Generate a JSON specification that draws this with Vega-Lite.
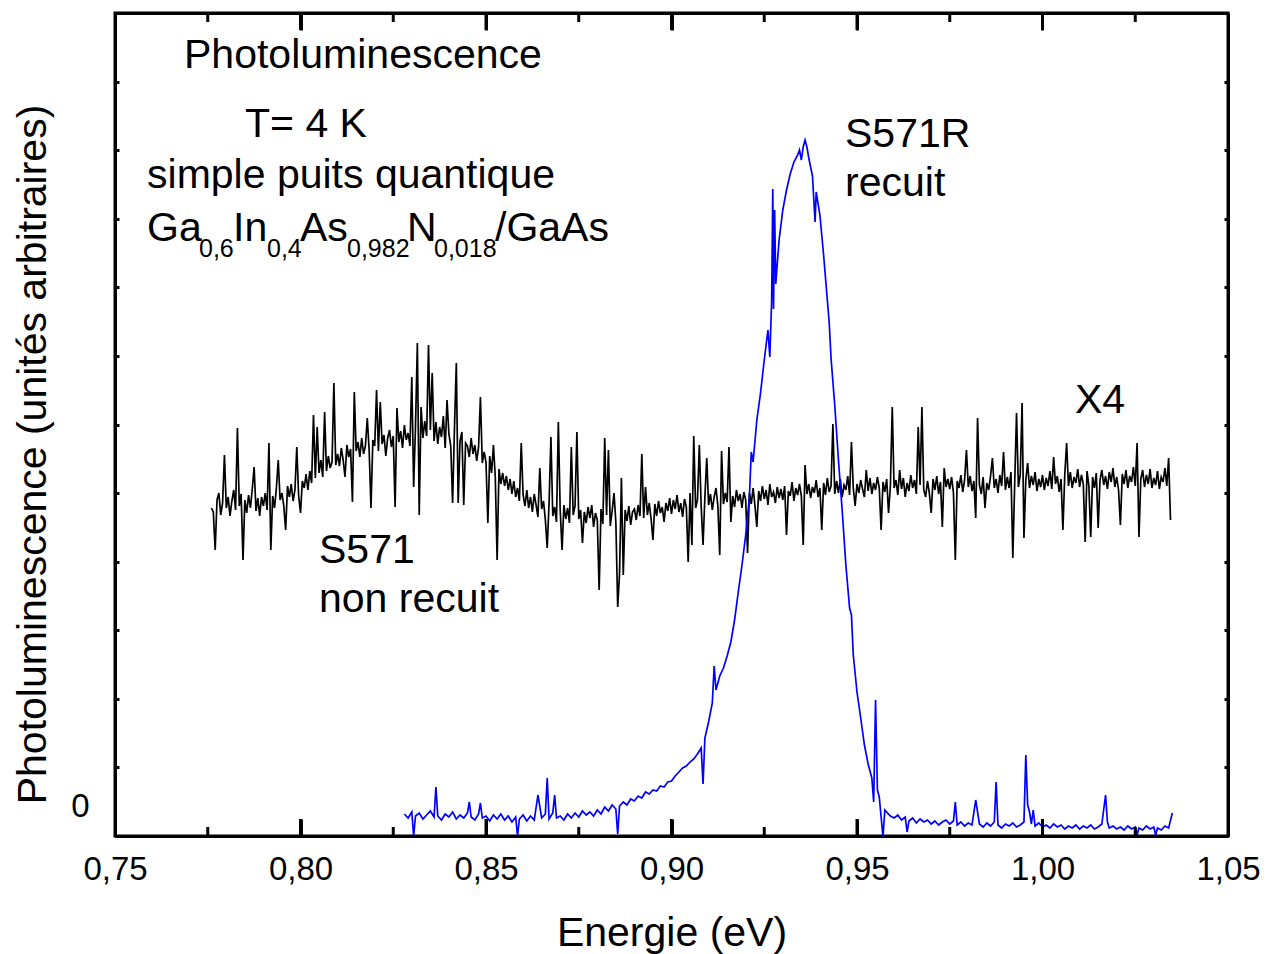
{
"$schema": "https://vega.github.io/schema/vega-lite/v6.json",
"width": 1113, "height": 823,
"autosize": "none",
"padding": {"left": 115, "top": 13, "right": 48, "bottom": 118},
"background": "white",
"config": {
  "font": "Liberation Sans",
  "view": {"stroke": "black", "strokeWidth": 3},
  "axis": {"zindex": 1, "grid": false, "domainColor": "black", "domainWidth": 3, "tickColor": "black", "tickWidth": 3, "labelColor": "black", "titleColor": "black", "labelFont": "Liberation Sans", "titleFont": "Liberation Sans", "titleFontWeight": "normal"}
},
"datasets": {
"black": [
{"e":0.776,"v":298},{"e":0.7765,"v":294},{"e":0.777,"v":256},{"e":0.7775,"v":306},{"e":0.778,"v":313},{"e":0.7785,"v":291},{"e":0.779,"v":303},{"e":0.7795,"v":351},{"e":0.78,"v":298},{"e":0.7805,"v":309},
{"e":0.781,"v":290},{"e":0.7815,"v":305},{"e":0.782,"v":316},{"e":0.7825,"v":296},{"e":0.783,"v":378},{"e":0.7835,"v":300},{"e":0.784,"v":312},{"e":0.7845,"v":246},{"e":0.785,"v":306},{"e":0.7855,"v":293},
{"e":0.786,"v":311},{"e":0.7865,"v":298},{"e":0.787,"v":317},{"e":0.7875,"v":339},{"e":0.788,"v":295},{"e":0.7885,"v":308},{"e":0.789,"v":290},{"e":0.7895,"v":309},{"e":0.79,"v":300},{"e":0.7905,"v":313},
{"e":0.791,"v":296},{"e":0.7915,"v":363},{"e":0.792,"v":256},{"e":0.7925,"v":310},{"e":0.793,"v":298},{"e":0.7935,"v":318},{"e":0.794,"v":346},{"e":0.7945,"v":306},{"e":0.795,"v":313},{"e":0.7955,"v":300},
{"e":0.796,"v":276},{"e":0.7965,"v":320},{"e":0.797,"v":309},{"e":0.7975,"v":322},{"e":0.798,"v":305},{"e":0.7985,"v":316},{"e":0.799,"v":359},{"e":0.7995,"v":310},{"e":0.8,"v":293},{"e":0.8005,"v":325},
{"e":0.801,"v":318},{"e":0.8015,"v":332},{"e":0.802,"v":316},{"e":0.8025,"v":335},{"e":0.803,"v":323},{"e":0.8035,"v":391},{"e":0.804,"v":328},{"e":0.8045,"v":379},{"e":0.805,"v":333},{"e":0.8055,"v":346},
{"e":0.806,"v":329},{"e":0.8065,"v":394},{"e":0.807,"v":335},{"e":0.8075,"v":350},{"e":0.808,"v":338},{"e":0.8085,"v":344},{"e":0.809,"v":423},{"e":0.8095,"v":341},{"e":0.81,"v":352},{"e":0.8105,"v":340},
{"e":0.811,"v":358},{"e":0.8115,"v":346},{"e":0.812,"v":329},{"e":0.8125,"v":361},{"e":0.813,"v":349},{"e":0.8135,"v":357},{"e":0.814,"v":304},{"e":0.8145,"v":414},{"e":0.815,"v":355},{"e":0.8155,"v":364},
{"e":0.816,"v":349},{"e":0.8165,"v":368},{"e":0.817,"v":352},{"e":0.8175,"v":360},{"e":0.818,"v":388},{"e":0.8185,"v":356},{"e":0.819,"v":298},{"e":0.8195,"v":366},{"e":0.82,"v":360},{"e":0.8205,"v":416},
{"e":0.821,"v":355},{"e":0.8215,"v":404},{"e":0.822,"v":362},{"e":0.8225,"v":371},{"e":0.823,"v":350},{"e":0.8235,"v":368},{"e":0.824,"v":376},{"e":0.8245,"v":359},{"e":0.825,"v":370},{"e":0.8255,"v":299},
{"e":0.826,"v":398},{"e":0.8265,"v":364},{"e":0.827,"v":375},{"e":0.8275,"v":358},{"e":0.828,"v":381},{"e":0.8285,"v":366},{"e":0.829,"v":373},{"e":0.8295,"v":360},{"e":0.83,"v":429},{"e":0.8305,"v":319},
{"e":0.831,"v":380},{"e":0.8315,"v":463},{"e":0.832,"v":291},{"e":0.8325,"v":399},{"e":0.833,"v":368},{"e":0.8335,"v":385},{"e":0.834,"v":370},{"e":0.8345,"v":461},{"e":0.835,"v":376},{"e":0.8355,"v":433},
{"e":0.836,"v":365},{"e":0.8365,"v":384},{"e":0.837,"v":362},{"e":0.8375,"v":379},{"e":0.838,"v":369},{"e":0.8385,"v":390},{"e":0.839,"v":358},{"e":0.8395,"v":406},{"e":0.84,"v":372},{"e":0.8405,"v":360},
{"e":0.841,"v":303},{"e":0.8415,"v":378},{"e":0.842,"v":443},{"e":0.8425,"v":303},{"e":0.843,"v":365},{"e":0.8435,"v":374},{"e":0.844,"v":301},{"e":0.8445,"v":363},{"e":0.845,"v":360},{"e":0.8455,"v":349},
{"e":0.846,"v":368},{"e":0.8465,"v":352},{"e":0.847,"v":361},{"e":0.8475,"v":345},{"e":0.848,"v":359},{"e":0.8485,"v":409},{"e":0.849,"v":343},{"e":0.8495,"v":354},{"e":0.85,"v":344},{"e":0.8505,"v":283},
{"e":0.851,"v":350},{"e":0.8515,"v":333},{"e":0.852,"v":361},{"e":0.8525,"v":329},{"e":0.853,"v":246},{"e":0.8535,"v":337},{"e":0.854,"v":322},{"e":0.8545,"v":333},{"e":0.855,"v":320},{"e":0.8555,"v":330},
{"e":0.856,"v":316},{"e":0.8565,"v":327},{"e":0.857,"v":312},{"e":0.8575,"v":325},{"e":0.858,"v":309},{"e":0.8585,"v":318},{"e":0.859,"v":305},{"e":0.8595,"v":363},{"e":0.86,"v":311},{"e":0.8605,"v":300},
{"e":0.861,"v":316},{"e":0.8615,"v":298},{"e":0.862,"v":309},{"e":0.8625,"v":294},{"e":0.863,"v":312},{"e":0.8635,"v":301},{"e":0.864,"v":289},{"e":0.8645,"v":338},{"e":0.865,"v":297},{"e":0.8655,"v":305},
{"e":0.866,"v":286},{"e":0.8665,"v":258},{"e":0.867,"v":303},{"e":0.8675,"v":369},{"e":0.868,"v":290},{"e":0.8685,"v":299},{"e":0.869,"v":284},{"e":0.8695,"v":384},{"e":0.87,"v":296},{"e":0.8705,"v":256},
{"e":0.871,"v":301},{"e":0.8715,"v":287},{"e":0.872,"v":298},{"e":0.8725,"v":283},{"e":0.873,"v":359},{"e":0.8735,"v":291},{"e":0.874,"v":300},{"e":0.8745,"v":374},{"e":0.875,"v":287},{"e":0.8755,"v":296},
{"e":0.876,"v":263},{"e":0.8765,"v":294},{"e":0.877,"v":283},{"e":0.8775,"v":299},{"e":0.878,"v":288},{"e":0.8785,"v":301},{"e":0.879,"v":279},{"e":0.8795,"v":293},{"e":0.88,"v":286},{"e":0.8805,"v":216},
{"e":0.881,"v":297},{"e":0.8815,"v":282},{"e":0.882,"v":368},{"e":0.8825,"v":291},{"e":0.883,"v":356},{"e":0.8835,"v":280},{"e":0.884,"v":295},{"e":0.8845,"v":313},{"e":0.885,"v":284},{"e":0.8855,"v":199},
{"e":0.886,"v":233},{"e":0.8865,"v":328},{"e":0.887,"v":231},{"e":0.8875,"v":296},{"e":0.888,"v":285},{"e":0.8885,"v":300},{"e":0.889,"v":281},{"e":0.8895,"v":294},{"e":0.89,"v":297},{"e":0.8905,"v":286},
{"e":0.891,"v":301},{"e":0.8915,"v":290},{"e":0.892,"v":352},{"e":0.8925,"v":288},{"e":0.893,"v":319},{"e":0.8935,"v":291},{"e":0.894,"v":303},{"e":0.8945,"v":287},{"e":0.895,"v":266},{"e":0.8955,"v":302},
{"e":0.896,"v":290},{"e":0.8965,"v":305},{"e":0.897,"v":293},{"e":0.8975,"v":299},{"e":0.898,"v":284},{"e":0.8985,"v":303},{"e":0.899,"v":295},{"e":0.8995,"v":308},{"e":0.9,"v":292},{"e":0.9005,"v":306},
{"e":0.901,"v":297},{"e":0.9015,"v":311},{"e":0.902,"v":294},{"e":0.9025,"v":303},{"e":0.903,"v":289},{"e":0.9035,"v":307},{"e":0.904,"v":299},{"e":0.9045,"v":244},{"e":0.905,"v":313},{"e":0.9055,"v":261},
{"e":0.906,"v":370},{"e":0.9065,"v":298},{"e":0.907,"v":306},{"e":0.9075,"v":361},{"e":0.908,"v":300},{"e":0.9085,"v":261},{"e":0.909,"v":309},{"e":0.9095,"v":348},{"e":0.91,"v":301},{"e":0.9105,"v":312},
{"e":0.911,"v":296},{"e":0.9115,"v":309},{"e":0.912,"v":318},{"e":0.9125,"v":300},{"e":0.913,"v":251},{"e":0.9135,"v":355},{"e":0.914,"v":302},{"e":0.9145,"v":313},{"e":0.915,"v":304},{"e":0.9155,"v":359},
{"e":0.916,"v":284},{"e":0.9165,"v":310},{"e":0.917,"v":299},{"e":0.9175,"v":316},{"e":0.918,"v":305},{"e":0.9185,"v":312},{"e":0.919,"v":298},{"e":0.9195,"v":314},{"e":0.92,"v":306},{"e":0.9205,"v":253},
{"e":0.921,"v":313},{"e":0.9215,"v":302},{"e":0.922,"v":318},{"e":0.9225,"v":300},{"e":0.923,"v":279},{"e":0.9235,"v":315},{"e":0.924,"v":305},{"e":0.9245,"v":320},{"e":0.925,"v":307},{"e":0.9255,"v":316},
{"e":0.926,"v":301},{"e":0.9265,"v":322},{"e":0.927,"v":309},{"e":0.9275,"v":314},{"e":0.928,"v":303},{"e":0.9285,"v":319},{"e":0.929,"v":308},{"e":0.9295,"v":317},{"e":0.93,"v":306},{"e":0.9305,"v":320},
{"e":0.931,"v":271},{"e":0.9315,"v":315},{"e":0.932,"v":310},{"e":0.9325,"v":324},{"e":0.933,"v":305},{"e":0.9335,"v":318},{"e":0.934,"v":311},{"e":0.9345,"v":322},{"e":0.935,"v":310},{"e":0.9355,"v":261},
{"e":0.936,"v":341},{"e":0.9365,"v":312},{"e":0.937,"v":322},{"e":0.9375,"v":308},{"e":0.938,"v":319},{"e":0.9385,"v":313},{"e":0.939,"v":326},{"e":0.9395,"v":309},{"e":0.94,"v":318},{"e":0.9405,"v":276},
{"e":0.941,"v":323},{"e":0.9415,"v":311},{"e":0.942,"v":328},{"e":0.9425,"v":314},{"e":0.943,"v":320},{"e":0.9435,"v":382},{"e":0.944,"v":312},{"e":0.9445,"v":325},{"e":0.945,"v":313},{"e":0.9455,"v":327},
{"e":0.946,"v":309},{"e":0.9465,"v":321},{"e":0.947,"v":316},{"e":0.9475,"v":330},{"e":0.948,"v":311},{"e":0.9485,"v":364},{"e":0.949,"v":318},{"e":0.9495,"v":300},{"e":0.95,"v":322},{"e":0.9505,"v":313},
{"e":0.951,"v":326},{"e":0.9515,"v":317},{"e":0.952,"v":309},{"e":0.9525,"v":336},{"e":0.953,"v":315},{"e":0.9535,"v":328},{"e":0.954,"v":312},{"e":0.9545,"v":323},{"e":0.955,"v":316},{"e":0.9555,"v":329},
{"e":0.956,"v":318},{"e":0.9565,"v":276},{"e":0.957,"v":324},{"e":0.9575,"v":314},{"e":0.958,"v":327},{"e":0.9585,"v":293},{"e":0.959,"v":320},{"e":0.9595,"v":399},{"e":0.96,"v":318},{"e":0.9605,"v":326},
{"e":0.961,"v":311},{"e":0.9615,"v":336},{"e":0.962,"v":317},{"e":0.9625,"v":328},{"e":0.963,"v":309},{"e":0.9635,"v":323},{"e":0.964,"v":315},{"e":0.9645,"v":331},{"e":0.965,"v":318},{"e":0.9655,"v":326},
{"e":0.966,"v":312},{"e":0.9665,"v":379},{"e":0.967,"v":321},{"e":0.9675,"v":399},{"e":0.968,"v":316},{"e":0.9685,"v":309},{"e":0.969,"v":325},{"e":0.9695,"v":313},{"e":0.97,"v":293},{"e":0.9705,"v":327},
{"e":0.971,"v":316},{"e":0.9715,"v":330},{"e":0.972,"v":312},{"e":0.9725,"v":324},{"e":0.973,"v":279},{"e":0.9735,"v":338},{"e":0.974,"v":319},{"e":0.9745,"v":327},{"e":0.975,"v":317},{"e":0.9755,"v":329},
{"e":0.976,"v":313},{"e":0.9765,"v":246},{"e":0.977,"v":325},{"e":0.9775,"v":318},{"e":0.978,"v":331},{"e":0.9785,"v":314},{"e":0.979,"v":326},{"e":0.9795,"v":356},{"e":0.98,"v":319},{"e":0.9805,"v":330},
{"e":0.981,"v":315},{"e":0.9815,"v":325},{"e":0.982,"v":288},{"e":0.9825,"v":388},{"e":0.983,"v":321},{"e":0.9835,"v":312},{"e":0.984,"v":329},{"e":0.9845,"v":298},{"e":0.985,"v":323},{"e":0.9855,"v":316},
{"e":0.986,"v":330},{"e":0.9865,"v":348},{"e":0.987,"v":318},{"e":0.9875,"v":327},{"e":0.988,"v":313},{"e":0.9885,"v":331},{"e":0.989,"v":320},{"e":0.9895,"v":354},{"e":0.99,"v":316},{"e":0.9905,"v":329},
{"e":0.991,"v":318},{"e":0.9915,"v":334},{"e":0.992,"v":248},{"e":0.9925,"v":322},{"e":0.993,"v":393},{"e":0.9935,"v":319},{"e":0.994,"v":331},{"e":0.9945,"v":403},{"e":0.995,"v":268},{"e":0.9955,"v":326},
{"e":0.996,"v":343},{"e":0.9965,"v":318},{"e":0.997,"v":330},{"e":0.9975,"v":321},{"e":0.998,"v":334},{"e":0.9985,"v":315},{"e":0.999,"v":327},{"e":0.9995,"v":319},{"e":1.0,"v":331},{"e":1.0005,"v":316},
{"e":1.001,"v":328},{"e":1.0015,"v":320},{"e":1.002,"v":335},{"e":1.0025,"v":317},{"e":1.003,"v":349},{"e":1.0035,"v":322},{"e":1.004,"v":330},{"e":1.0045,"v":314},{"e":1.005,"v":327},{"e":1.0055,"v":276},
{"e":1.006,"v":331},{"e":1.0065,"v":363},{"e":1.007,"v":320},{"e":1.0075,"v":334},{"e":1.008,"v":318},{"e":1.0085,"v":329},{"e":1.009,"v":323},{"e":1.0095,"v":337},{"e":1.01,"v":319},{"e":1.0105,"v":331},
{"e":1.011,"v":322},{"e":1.0115,"v":264},{"e":1.012,"v":335},{"e":1.0125,"v":320},{"e":1.013,"v":269},{"e":1.0135,"v":329},{"e":1.014,"v":318},{"e":1.0145,"v":333},{"e":1.015,"v":278},{"e":1.0155,"v":326},
{"e":1.016,"v":336},{"e":1.0165,"v":321},{"e":1.017,"v":330},{"e":1.0175,"v":317},{"e":1.018,"v":334},{"e":1.0185,"v":324},{"e":1.019,"v":338},{"e":1.0195,"v":319},{"e":1.02,"v":329},{"e":1.0205,"v":316},
{"e":1.021,"v":281},{"e":1.0215,"v":332},{"e":1.022,"v":322},{"e":1.0225,"v":336},{"e":1.023,"v":318},{"e":1.0235,"v":330},{"e":1.024,"v":324},{"e":1.0245,"v":339},{"e":1.025,"v":320},{"e":1.0255,"v":363},
{"e":1.026,"v":269},{"e":1.0265,"v":327},{"e":1.027,"v":336},{"e":1.0275,"v":319},{"e":1.028,"v":331},{"e":1.0285,"v":322},{"e":1.029,"v":337},{"e":1.0295,"v":318},{"e":1.03,"v":328},{"e":1.0305,"v":321},
{"e":1.031,"v":335},{"e":1.0315,"v":317},{"e":1.032,"v":329},{"e":1.0325,"v":324},{"e":1.033,"v":338},{"e":1.0335,"v":320},{"e":1.034,"v":348},{"e":1.0345,"v":286}
],
"blue": [
{"e":0.828,"v":-8},{"e":0.829,"v":-12},{"e":0.83,"v":-6},{"e":0.8305,"v":-30},{"e":0.831,"v":-10},{"e":0.832,"v":-7},{"e":0.833,"v":-13},{"e":0.834,"v":-9},{"e":0.835,"v":-5},{"e":0.836,"v":-11},
{"e":0.8365,"v":19},{"e":0.837,"v":-10},{"e":0.838,"v":-14},{"e":0.839,"v":-8},{"e":0.84,"v":-11},{"e":0.841,"v":-6},{"e":0.842,"v":-13},{"e":0.843,"v":-9},{"e":0.844,"v":-12},{"e":0.845,"v":-7},
{"e":0.8455,"v":4},{"e":0.846,"v":-11},{"e":0.847,"v":-14},{"e":0.848,"v":-8},{"e":0.8485,"v":3},{"e":0.849,"v":-12},{"e":0.85,"v":-10},{"e":0.851,"v":-15},{"e":0.852,"v":-9},{"e":0.853,"v":-13},
{"e":0.854,"v":-8},{"e":0.855,"v":-14},{"e":0.856,"v":-10},{"e":0.857,"v":-16},{"e":0.858,"v":-11},{"e":0.8585,"v":-30},{"e":0.859,"v":-13},{"e":0.86,"v":-9},{"e":0.861,"v":-15},{"e":0.862,"v":-10},
{"e":0.863,"v":-14},{"e":0.864,"v":11},{"e":0.865,"v":-12},{"e":0.866,"v":-8},{"e":0.8665,"v":28},{"e":0.867,"v":-13},{"e":0.868,"v":-7},{"e":0.8685,"v":11},{"e":0.869,"v":-12},{"e":0.87,"v":-10},
{"e":0.871,"v":-14},{"e":0.872,"v":-8},{"e":0.873,"v":-12},{"e":0.874,"v":-7},{"e":0.875,"v":-11},{"e":0.876,"v":-5},{"e":0.877,"v":-9},{"e":0.878,"v":-6},{"e":0.879,"v":-10},{"e":0.88,"v":-4},
{"e":0.881,"v":-8},{"e":0.882,"v":-1},{"e":0.883,"v":-5},{"e":0.884,"v":1},{"e":0.885,"v":-3},{"e":0.8855,"v":-28},{"e":0.886,"v":0},{"e":0.887,"v":4},{"e":0.888,"v":1},{"e":0.889,"v":7},
{"e":0.89,"v":5},{"e":0.891,"v":10},{"e":0.892,"v":8},{"e":0.893,"v":14},{"e":0.894,"v":12},{"e":0.895,"v":16},{"e":0.896,"v":15},{"e":0.897,"v":20},{"e":0.898,"v":19},{"e":0.899,"v":24},
{"e":0.9,"v":25},{"e":0.901,"v":30},{"e":0.902,"v":34},{"e":0.903,"v":38},{"e":0.904,"v":40},{"e":0.905,"v":44},{"e":0.906,"v":47},{"e":0.907,"v":52},{"e":0.908,"v":58},{"e":0.9085,"v":22},
{"e":0.909,"v":68},{"e":0.91,"v":84},{"e":0.911,"v":103},{"e":0.9115,"v":140},{"e":0.912,"v":116},{"e":0.913,"v":130},{"e":0.914,"v":138},{"e":0.915,"v":150},{"e":0.916,"v":164},{"e":0.917,"v":186},
{"e":0.918,"v":214},{"e":0.919,"v":241},{"e":0.92,"v":271},{"e":0.921,"v":309},{"e":0.9215,"v":354},{"e":0.922,"v":344},{"e":0.923,"v":386},{"e":0.924,"v":413},{"e":0.925,"v":446},{"e":0.926,"v":476},
{"e":0.9265,"v":449},{"e":0.927,"v":506},{"e":0.9273,"v":617},{"e":0.9275,"v":497},{"e":0.9278,"v":596},{"e":0.9281,"v":522},{"e":0.929,"v":566},{"e":0.93,"v":596},{"e":0.931,"v":616},{"e":0.932,"v":632},
{"e":0.933,"v":644},{"e":0.934,"v":651},{"e":0.9345,"v":656},{"e":0.935,"v":646},{"e":0.9355,"v":659},{"e":0.936,"v":666},{"e":0.9365,"v":659},{"e":0.937,"v":648},{"e":0.938,"v":630},{"e":0.9387,"v":584},
{"e":0.939,"v":614},{"e":0.94,"v":591},{"e":0.941,"v":551},{"e":0.942,"v":506},{"e":0.9425,"v":484},{"e":0.943,"v":448},{"e":0.944,"v":401},{"e":0.945,"v":346},{"e":0.946,"v":296},{"e":0.947,"v":241},
{"e":0.948,"v":198},{"e":0.9485,"v":191},{"e":0.949,"v":151},{"e":0.95,"v":114},{"e":0.951,"v":88},{"e":0.952,"v":61},{"e":0.953,"v":42},{"e":0.954,"v":28},{"e":0.9545,"v":4},{"e":0.955,"v":106},
{"e":0.9555,"v":16},{"e":0.956,"v":9},{"e":0.957,"v":-31},{"e":0.9575,"v":-4},{"e":0.958,"v":-6},{"e":0.959,"v":-10},{"e":0.96,"v":-12},{"e":0.961,"v":-9},{"e":0.962,"v":-14},{"e":0.963,"v":-11},
{"e":0.9635,"v":-26},{"e":0.964,"v":-15},{"e":0.965,"v":-12},{"e":0.966,"v":-17},{"e":0.967,"v":-13},{"e":0.968,"v":-16},{"e":0.969,"v":-14},{"e":0.97,"v":-18},{"e":0.971,"v":-15},{"e":0.972,"v":-19},
{"e":0.973,"v":-16},{"e":0.974,"v":-14},{"e":0.975,"v":-18},{"e":0.976,"v":-15},{"e":0.9765,"v":4},{"e":0.977,"v":-19},{"e":0.978,"v":-16},{"e":0.979,"v":-20},{"e":0.98,"v":-17},{"e":0.981,"v":-19},
{"e":0.982,"v":6},{"e":0.983,"v":-18},{"e":0.984,"v":-21},{"e":0.985,"v":-17},{"e":0.986,"v":-20},{"e":0.987,"v":-16},{"e":0.9875,"v":24},{"e":0.988,"v":-19},{"e":0.989,"v":-22},{"e":0.99,"v":-18},
{"e":0.991,"v":-20},{"e":0.992,"v":-17},{"e":0.993,"v":-21},{"e":0.994,"v":-19},{"e":0.995,"v":-16},{"e":0.9955,"v":51},{"e":0.996,"v":1},{"e":0.9965,"v":-6},{"e":0.997,"v":-18},{"e":0.9975,"v":-4},
{"e":0.998,"v":-20},{"e":0.999,"v":-17},{"e":1.0,"v":-21},{"e":1.001,"v":-19},{"e":1.002,"v":-22},{"e":1.003,"v":-18},{"e":1.004,"v":-21},{"e":1.005,"v":-19},{"e":1.006,"v":-23},{"e":1.007,"v":-20},
{"e":1.008,"v":-22},{"e":1.009,"v":-19},{"e":1.01,"v":-23},{"e":1.011,"v":-20},{"e":1.012,"v":-22},{"e":1.013,"v":-19},{"e":1.014,"v":-23},{"e":1.015,"v":-21},{"e":1.016,"v":-18},{"e":1.017,"v":11},
{"e":1.0175,"v":-16},{"e":1.018,"v":-22},{"e":1.019,"v":-20},{"e":1.02,"v":-23},{"e":1.021,"v":-21},{"e":1.022,"v":-24},{"e":1.023,"v":-20},{"e":1.024,"v":-23},{"e":1.025,"v":-21},{"e":1.0255,"v":-29},
{"e":1.026,"v":-22},{"e":1.027,"v":-24},{"e":1.028,"v":-20},{"e":1.029,"v":-23},{"e":1.03,"v":-21},{"e":1.0305,"v":-29},{"e":1.031,"v":-22},{"e":1.032,"v":-24},{"e":1.033,"v":-20},{"e":1.034,"v":-22},
{"e":1.035,"v":-7}
],
"labels": [
{"t":"Photoluminescence","e":0.7686,"v":738},
{"t":"T= 4 K","e":0.78504,"v":669},
{"t":"simple puits quantique","e":0.75863,"v":618},
{"t":"Ga","e":0.75863,"v":565},
{"t":"In","e":0.78181,"v":565},
{"t":"As","e":0.79987,"v":565},
{"t":"N","e":0.82871,"v":565},
{"t":"/GaAs","e":0.85243,"v":565},
{"t":"S571R","e":0.94677,"v":659},
{"t":"recuit","e":0.94677,"v":610},
{"t":"X4","e":1.00876,"v":393},
{"t":"S571","e":0.80499,"v":243},
{"t":"non recuit","e":0.80499,"v":194}
],
"subs": [
{"t":"0,6","e":0.77264,"v":549},
{"t":"0,4","e":0.79097,"v":549},
{"t":"0,982","e":0.81253,"v":549},
{"t":"0,018","e":0.83598,"v":549}
],
"majorTicks": [{"e":0.8},{"e":0.85},{"e":0.9},{"e":0.95},{"e":1.0}],
"minorTicks": [{"e":0.775},{"e":0.825},{"e":0.875},{"e":0.925},{"e":0.975},{"e":1.025}]
},
"layer": [
{
 "data": {"name": "black"},
 "mark": {"type": "line", "color": "black", "strokeWidth": 1.7},
 "encoding": {
  "x": {"field": "e", "type": "quantitative", "scale": {"domain": [0.75, 1.05], "nice": false, "zero": false},
   "axis": {"orient": "bottom", "values": [0.75,0.8,0.85,0.9,0.95,1.0,1.05],
     "labelExpr": "replace(format(datum.value, '.2f'), '.', ',')",
     "labelFontSize": 33, "labelFlush": false, "labelOverlap": false, "labelBound": false, "labelPadding": 60, "labelBaseline": "alphabetic",
     "tickSize": -17,
     "title": "Energie (eV)", "titleFontSize": 41, "titleBaseline": "alphabetic", "titleY": 109}},
  "y": {"field": "v", "type": "quantitative", "scale": {"domain": [-30, 793], "nice": false, "zero": false},
   "axis": {"orient": "left", "values": [0,38.58,107.17,175.75,244.33,312.92,381.5,450.08,518.67,587.25,655.83,724.42],
     "labelExpr": "datum.value == 0 ? '0' : ''", "labelFontSize": 33, "labelPadding": 30, "labelFlush": false, "labelOverlap": false, "labelBaseline": "middle",
     "tickSize": -4, "tickOpacity": {"condition": {"test": "datum.value == 0", "value": 0}, "value": 1},
     "title": "Photoluminescence (unités arbitraires)", "titleFontSize": 41, "titleAngle": -90, "titleAlign": "center", "titleBaseline": "alphabetic", "titleX": -70, "titleY": 441}}
 }
},
{
 "data": {"name": "blue"},
 "mark": {"type": "line", "color": "#0000ff", "strokeWidth": 1.7},
 "encoding": {
  "x": {"field": "e", "type": "quantitative", "scale": {"domain": [0.75, 1.05], "nice": false, "zero": false},
   "axis": {"orient": "top", "values": [0.75,0.8,0.85,0.9,0.95,1.0,1.05], "labels": false, "title": null, "tickSize": -17}},
  "y": {"field": "v", "type": "quantitative", "scale": {"domain": [-30, 793], "nice": false, "zero": false},
   "axis": {"orient": "right", "values": [38.58,107.17,175.75,244.33,312.92,381.5,450.08,518.67,587.25,655.83,724.42], "labels": false, "title": null, "tickSize": -4}}
 }
},
{
 "data": {"name": "majorTicks"},
 "mark": {"type": "rule", "color": "black", "strokeWidth": 3},
 "encoding": {
  "x": {"field": "e", "type": "quantitative", "axis": null},
  "y": {"datum": -30, "type": "quantitative", "axis": null},
  "y2": {"datum": -13}
 }
},
{
 "data": {"name": "majorTicks"},
 "mark": {"type": "rule", "color": "black", "strokeWidth": 3},
 "encoding": {
  "x": {"field": "e", "type": "quantitative", "axis": null},
  "y": {"datum": 793, "type": "quantitative", "axis": null},
  "y2": {"datum": 776}
 }
},
{
 "data": {"name": "minorTicks"},
 "mark": {"type": "rule", "color": "black", "strokeWidth": 3},
 "encoding": {
  "x": {"field": "e", "type": "quantitative", "axis": null},
  "y": {"datum": -30, "type": "quantitative", "axis": null},
  "y2": {"datum": -21}
 }
},
{
 "data": {"name": "minorTicks"},
 "mark": {"type": "rule", "color": "black", "strokeWidth": 3},
 "encoding": {
  "x": {"field": "e", "type": "quantitative", "axis": null},
  "y": {"datum": 793, "type": "quantitative", "axis": null},
  "y2": {"datum": 784}
 }
},
{
 "data": {"name": "labels"},
 "mark": {"type": "text", "align": "left", "baseline": "alphabetic", "fontSize": 41, "font": "Liberation Sans", "color": "black"},
 "encoding": {
  "x": {"field": "e", "type": "quantitative", "axis": null},
  "y": {"field": "v", "type": "quantitative", "axis": null},
  "text": {"field": "t"}
 }
},
{
 "data": {"name": "subs"},
 "mark": {"type": "text", "align": "left", "baseline": "alphabetic", "fontSize": 25, "font": "Liberation Sans", "color": "black"},
 "encoding": {
  "x": {"field": "e", "type": "quantitative", "axis": null},
  "y": {"field": "v", "type": "quantitative", "axis": null},
  "text": {"field": "t"}
 }
}
],
"resolve": {"axis": {"x": "independent", "y": "independent"}}
}
